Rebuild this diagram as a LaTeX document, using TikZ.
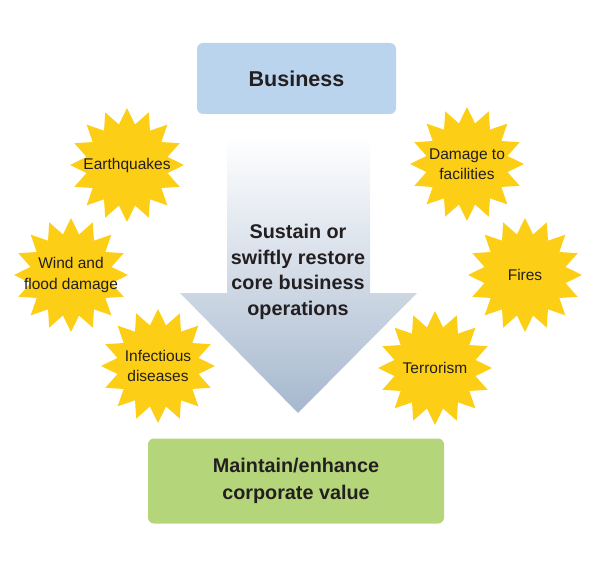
\documentclass[tikz,border=0pt]{standalone}
\usepackage{fontspec}
\setmainfont{Liberation Sans}
\usepackage{tikz}
\usetikzlibrary{shapes.geometric}

\definecolor{boxblue}{RGB}{187,212,238}
\definecolor{boxgreen}{RGB}{181,213,122}
\definecolor{burstyellow}{RGB}{252,206,22}
\definecolor{arrowblue}{RGB}{166,184,206}
\definecolor{textgray}{RGB}{35,31,32}

\begin{document}
\begin{tikzpicture}[
		x=1pt, y=-1pt,
		burst/.style={star, star points=16, star point ratio=1.38, minimum size=114pt, inner sep=0pt, fill=burstyellow},
		bursttext/.style={font=\fontsize{15.5}{20.5}\selectfont, text=textgray, align=center},
		goalbox/.style={rounded corners=6pt, inner sep=0pt, text=textgray, align=center}
	]
	\useasboundingbox (0, 0) rectangle (595, 567);
	
	% big arrow
	\shade[top color=white, bottom color=arrowblue] (227, 137) -- (370, 137) -- (370, 293) -- (417, 293)
		-- (298, 413) -- (180, 293) -- (227, 293) -- cycle;
	\node[text=textgray, align=center, font=\bfseries\fontsize{19.8}{25.5}\selectfont] (mission) at (298, 272)
		{Sustain or\\swiftly restore\\core business\\operations};
	
	% boxes
	\node[goalbox, fill=boxblue, minimum width=199pt, minimum height=71pt, font=\bfseries\fontsize{21.5}{26}\selectfont] (business) at (296.5, 78.5) {Business};
	\node[goalbox, fill=boxgreen, minimum width=296pt, minimum height=85pt, font=\bfseries\fontsize{19.8}{27}\selectfont] (value) at (296, 481) {Maintain/enhance\\corporate value};
	
	% risks
	\node[burst] (quake) at (127, 165) {};
	\node[burst] (wind) at (71, 275) {};
	\node[burst] (disease) at (158, 366) {};
	\node[burst] (facility) at (467, 164) {};
	\node[burst] (fire) at (525, 275) {};
	\node[burst] (terror) at (435, 368) {};
	
	\node[bursttext] at (quake) {Earthquakes};
	\node[bursttext] at (wind) {Wind and\\flood damage};
	\node[bursttext] at (disease) {Infectious\\diseases};
	\node[bursttext] at (facility) {Damage to\\facilities};
	\node[bursttext] at (fire) {Fires};
	\node[bursttext] at (terror) {Terrorism};
\end{tikzpicture}
\end{document}
